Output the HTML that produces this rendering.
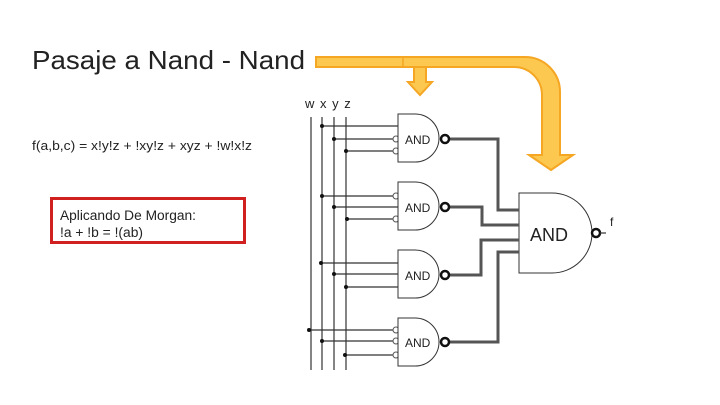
<!DOCTYPE html><html><head><style>body{margin:0;background:#fff}svg{display:block}</style></head><body>
<svg width="720" height="405" viewBox="0 0 720 405" font-family="Liberation Sans, sans-serif">
<rect width="720" height="405" fill="#fff"/>
<text x="32" y="69" font-size="26" fill="#222" textLength="273" lengthAdjust="spacingAndGlyphs">Pasaje a Nand - Nand</text>
<text x="305" y="108" font-size="13" fill="#222" letter-spacing="1">w x y z</text>
<text x="32" y="150" font-size="13" fill="#222" textLength="220" lengthAdjust="spacingAndGlyphs">f(a,b,c) = x!y!z + !xy!z + xyz + !w!x!z</text>
<rect x="51.5" y="198.5" width="193" height="44" fill="none" stroke="#d02020" stroke-width="3"/>
<text x="60" y="220" font-size="13.5" fill="#222" textLength="136" lengthAdjust="spacingAndGlyphs">Aplicando De Morgan:</text>
<text x="60" y="237" font-size="13.5" fill="#222" textLength="83" lengthAdjust="spacingAndGlyphs">!a + !b = !(ab)</text>
<!-- yellow arrows -->
<path d="M316 57 H525 A35 35 0 0 1 560 92 V155 H573 L551 170 L529 155 H542 V95 A28 28 0 0 0 514 67 H316 Z" fill="#fcc850" stroke="#f5a623" stroke-width="2"/>
<path d="M414 67 H426 V82 H432 L420 95 L408 82 H414 Z" fill="#fcc850" stroke="#f5a623" stroke-width="2"/>
<line x1="403" y1="58" x2="403" y2="66" stroke="#f5a623" stroke-width="1.5"/>
<g stroke="#333" stroke-width="1.2" fill="none">
<line x1="311" y1="117" x2="311" y2="370"/><line x1="322" y1="117" x2="322" y2="370"/>
<line x1="334" y1="117" x2="334" y2="370"/><line x1="346" y1="117" x2="346" y2="370"/>
<path d="M322 126H398 M334 139H394 M346 151H394"/>
<path d="M322 196H394 M334 207H398 M346 219H394"/>
<path d="M321 263H398 M334 274H398 M346 287H398"/>
<path d="M311 330H394 M322 341H394 M346 355H394"/>
</g>
<g fill="#111">
<circle cx="322" cy="126" r="2"/><circle cx="334" cy="139" r="2"/><circle cx="346" cy="151" r="2"/>
<circle cx="322" cy="196" r="2"/><circle cx="334" cy="207" r="2"/><circle cx="347" cy="219" r="2"/>
<circle cx="321" cy="263" r="2"/><circle cx="334" cy="274" r="2"/><circle cx="346" cy="287" r="2"/>
<circle cx="309" cy="330" r="2"/><circle cx="322" cy="341" r="2"/><circle cx="345" cy="355" r="2"/>
</g>
<g stroke="#555" stroke-width="1" fill="#fff">
<circle cx="396" cy="139" r="3"/><circle cx="396" cy="151" r="3"/>
<circle cx="396" cy="196" r="3"/><circle cx="396" cy="219" r="3"/>
<circle cx="396" cy="330" r="3"/><circle cx="396" cy="341" r="3"/><circle cx="396" cy="355" r="3"/>
</g>
<g stroke="#333" stroke-width="1" fill="#fff">
<path d="M398 114H415A24 24 0 0 1 415 162H398Z"/>
<path d="M398 182H415A24 24 0 0 1 415 230H398Z"/>
<path d="M398 250H415A24 24 0 0 1 415 298H398Z"/>
<path d="M398 318H415A24 24 0 0 1 415 366H398Z"/>
<path d="M519 193H552A40 40 0 0 1 552 273H519Z"/>
</g>
<g font-size="12" fill="#222"><text x="405" y="144">AND</text><text x="405" y="212">AND</text><text x="405" y="280">AND</text><text x="405" y="347">AND</text></g>
<text x="530" y="241" font-size="18" fill="#222">AND</text>
<g stroke="#555" stroke-width="3" fill="none">
<path d="M450 139H498V210H519"/><path d="M450 207H482V225H519"/>
<path d="M450 275H481V240H519"/><path d="M450 342H498V252H519"/>
</g>
<g stroke="#111" stroke-width="2.5" fill="#fff">
<circle cx="445" cy="139" r="4"/><circle cx="445" cy="207" r="4"/><circle cx="445" cy="275" r="4"/><circle cx="445" cy="342" r="4"/>
<circle cx="596" cy="233" r="4"/></g>
<line x1="600" y1="233" x2="606" y2="233" stroke="#333" stroke-width="1.2"/>
<text x="610" y="226" font-size="12" fill="#222">f</text>
</svg></body></html>
